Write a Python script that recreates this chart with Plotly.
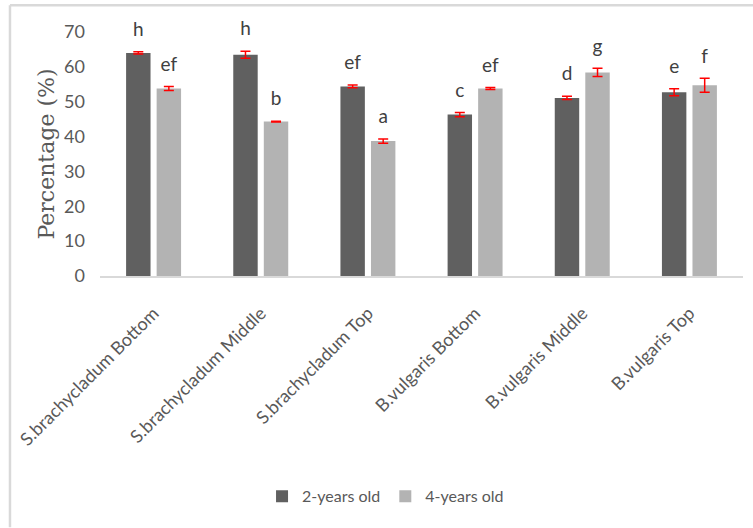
import plotly.graph_objects as go

# Leaf sections of each species
categories = [
    "S.brachycladum Bottom",
    "S.brachycladum Middle",
    "S.brachycladum Top",
    "B.vulgaris Bottom",
    "B.vulgaris Middle",
    "B.vulgaris Top",
]

# Mean percentage and standard error per age group
two_year = [64.0, 63.5, 54.4, 46.3, 51.1, 52.7]
two_year_err = [0.3, 1.0, 0.4, 0.6, 0.5, 1.0]
four_year = [53.8, 44.3, 38.7, 53.8, 58.4, 54.7]
four_year_err = [0.6, 0.1, 0.6, 0.3, 1.2, 2.0]

# Significance letters
two_year_letters = ["h", "h", "ef", "c", "d", "e"]
four_year_letters = ["ef", "b", "a", "ef", "g", "f"]

y_ticks = [0, 10, 20, 30, 40, 50, 60, 70]

DARK = "#606060"
LIGHT = "#b3b3b3"
TEXT = "#595959"
FONT = "Lato"

fig = go.Figure()

series = [
    ("2-years old", two_year, two_year_err, two_year_letters, DARK, "g1"),
    ("4-years old", four_year, four_year_err, four_year_letters, LIGHT, "g2"),
]

for name, vals, errs, letters, color, grp in series:
    fig.add_trace(go.Bar(
        name=name,
        x=categories,
        y=vals,
        offsetgroup=grp,
        marker=dict(color=color, line=dict(width=0)),
        error_y=dict(type="data", array=errs, visible=True,
                     color="#ff0000", thickness=1.5, width=5),
    ))

# Letters sit above the error-bar caps; a transparent marker pads the gap
for name, vals, errs, letters, color, grp in series:
    fig.add_trace(go.Scatter(
        x=categories,
        y=[v + e for v, e in zip(vals, errs)],
        offsetgroup=grp,
        mode="markers+text",
        marker=dict(size=16, color="rgba(0,0,0,0)"),
        text=letters,
        textposition="top center",
        textfont=dict(family=FONT, size=19, color="#404040"),
        showlegend=False,
        hoverinfo="skip",
        cliponaxis=False,
    ))

fig.update_layout(
    width=753,
    height=528,
    margin=dict(l=100, r=10, t=32, b=251.5),
    paper_bgcolor="white",
    plot_bgcolor="white",
    barmode="group",
    scattermode="group",
    bargap=0.43,
    bargroupgap=0.2,
    font=dict(family=FONT, color=TEXT, size=17),
    legend=dict(
        orientation="h",
        xref="container", x=0.512, xanchor="center",
        yref="container", y=0.06, yanchor="middle",
        font=dict(family=FONT, size=16, color=TEXT),
        itemwidth=30,
        traceorder="normal",
    ),
    xaxis=dict(
        tickangle=-45,
        showline=True,
        linecolor="#d9d9d9",
        linewidth=1.5,
        ticks="",
        ticklabelstandoff=18,
        tickfont=dict(family=FONT, size=18, color=TEXT),
        showgrid=False,
    ),
    yaxis=dict(
        range=[0, 70],
        tickvals=y_ticks,
        showline=False,
        showgrid=False,
        zeroline=False,
        ticks="",
        ticklabelstandoff=14,
        tickfont=dict(family=FONT, size=18, color=TEXT),
        title=dict(
            text="Percentage (%)",
            font=dict(family="DejaVu Serif", size=22, color=TEXT),
            standoff=3,
        ),
    ),
)

# Outer frame: top and left border of the chart area
fig.add_shape(type="line", xref="paper", yref="paper",
              x0=-0.14, x1=1.02, y0=1.11, y1=1.11,
              line=dict(color="#d9d9d9", width=2.5))
fig.add_shape(type="line", xref="paper", yref="paper",
              x0=-0.14, x1=-0.14, y0=-1.03, y1=1.11,
              line=dict(color="#d9d9d9", width=2.5))

fig.write_html("out.html")
